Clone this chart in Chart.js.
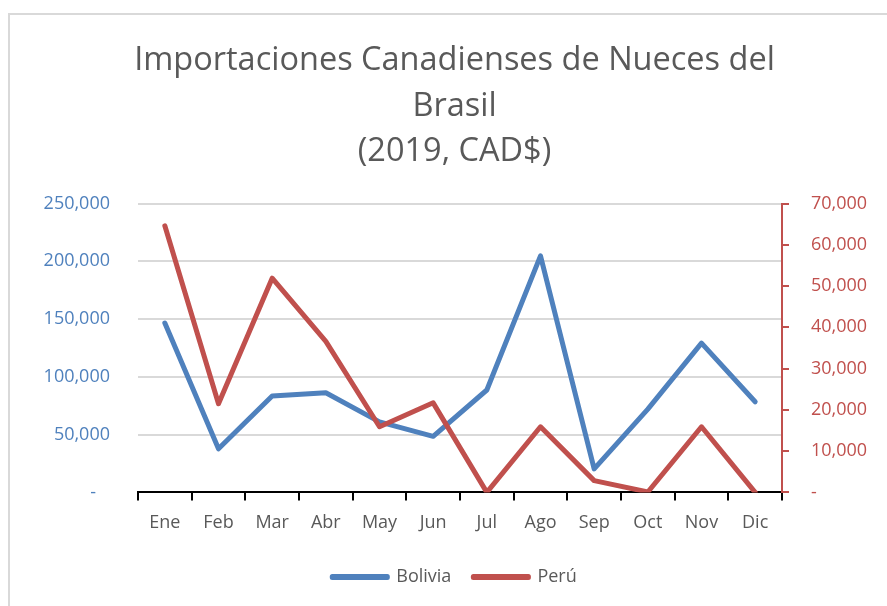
<!DOCTYPE html>
<html>
<head>
<meta charset="utf-8">
<script src="https://cdn.jsdelivr.net/npm/chart.js@4/dist/chart.umd.min.js"></script>
<style>
  body { margin: 0; background: #fff; overflow: hidden; }
  #wrap { position: relative; width: 887px; height: 606px; overflow: hidden; }
  #frame { position: absolute; left: 8px; top: 13px; width: 900px; height: 620px;
           border-top: 2px solid #d9d9d9; border-left: 2px solid #d9d9d9; }
  canvas { position: absolute; left: 0; top: 0; }
</style>
</head>
<body>
<div id="wrap">
  <div id="frame"></div>
  <canvas id="chart" width="909" height="606"></canvas>
</div>
<script>
// datos
var months = ["Ene", "Feb", "Mar", "Abr", "May", "Jun", "Jul", "Ago", "Sep", "Oct", "Nov", "Dic"];
var bolivia = [146600, 37700, 83400, 86200, 61000, 48500, 88600, 204700, 20300, 72000, 129200, 78400];
var peru = [64600, 21500, 51900, 36600, 15900, 21700, 0, 15900, 2850, 100, 15900, 0];
var titleLines = ["Importaciones Canadienses de Nueces del", "Brasil", "(2019, CAD$)"];

var blue = "#4F81BD";
var red = "#C0504D";
var grey = "#595959";
var font = "'Open Sans', 'Liberation Sans', sans-serif";

function fmt(v) {
    if (v === 0) return "-";
    return v.toLocaleString("en-US");
}

var ctx = document.getElementById("chart").getContext("2d");
var chart = new Chart(ctx, {
    type: "line",
    data: {
        labels: months,
        datasets: [
            {
                label: "Bolivia",
                data: bolivia,
                yAxisID: "y",
                borderColor: blue,
                backgroundColor: blue,
                borderWidth: 5,
                borderCapStyle: "round",
                borderJoinStyle: "round",
                pointRadius: 0,
                tension: 0,
                order: 1
            },
            {
                label: "Perú",
                data: peru,
                yAxisID: "y1",
                borderColor: red,
                backgroundColor: red,
                borderWidth: 5,
                borderCapStyle: "round",
                borderJoinStyle: "round",
                pointRadius: 0,
                tension: 0,
                order: 0
            }
        ]
    },
    options: {
        responsive: false,
        animation: false,
        layout: { padding: { left: 0, right: 0, top: 0, bottom: 10 } },
        plugins: {
            tooltip: { enabled: false },
            title: {
                display: true,
                text: titleLines,
                color: grey,
                font: { family: font, size: 32.5, weight: "normal", lineHeight: 1.4 },
                padding: { top: 38, bottom: 29 }
            },
            legend: {
                position: "bottom",
                labels: {
                    color: grey,
                    font: { family: font, size: 18 },
                    boxWidth: 55,
                    boxHeight: 1,
                    padding: 22,
                    sort: function (a, b) { return a.datasetIndex - b.datasetIndex; }
                }
            }
        },
        scales: {
            x: {
                offset: true,
                grid: {
                    offset: true,
                    drawOnChartArea: false,
                    drawTicks: true,
                    tickLength: 8,
                    color: "#000",
                    lineWidth: 2
                },
                border: { display: true, color: "#000", width: 2 },
                ticks: {
                    color: grey,
                    font: { family: font, size: 18 },
                    padding: 12,
                    maxRotation: 0
                }
            },
            y: {
                position: "left",
                min: 0,
                max: 250000,
                grid: { color: "#d9d9d9", lineWidth: 2, drawTicks: false },
                border: { display: false },
                ticks: {
                    stepSize: 50000,
                    color: blue,
                    font: { family: font, size: 18 },
                    padding: 28,
                    callback: function (v) { return v === 0 ? "-   " : fmt(v); }
                },
                afterFit: function (scale) { scale.width = 138; }
            },
            y1: {
                position: "right",
                min: 0,
                max: 70000,
                grid: { drawOnChartArea: false, color: red, lineWidth: 2, tickLength: 7 },
                border: { display: true, color: red, width: 2 },
                ticks: {
                    stepSize: 10000,
                    color: red,
                    font: { family: font, size: 18 },
                    padding: 22,
                    callback: function (v) { return fmt(v); }
                },
                afterFit: function (scale) { scale.width = 127; }
            }
        }
    }
});
</script>
</body>
</html>
